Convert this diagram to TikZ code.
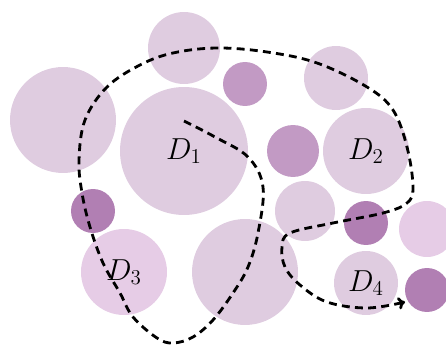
\documentclass[tikz,border=0pt]{standalone}
\usepackage{tikz}
\usetikzlibrary{arrows.meta}
\definecolor{discLight}{HTML}{DFCCE0}
\definecolor{discMid}{HTML}{C29AC4}
\definecolor{discDark}{HTML}{B17FB3}
\definecolor{discPink}{HTML}{E6CCE6}

\begin{document}
\begin{tikzpicture}[
  x=0.02cm, y=-0.02cm,
  font=\LARGE,
  disc/.style={circle, inner sep=0pt, draw=none, fill=discLight},
  discmid/.style={disc, fill=discMid},
  discdark/.style={disc, fill=discDark},
  discpink/.style={disc, fill=discPink},
  route/.style={line width=1.6pt, dash pattern=on 4.5pt off 3pt, -{To[length=4pt,width=7pt]}}
]
  \useasboundingbox (0,0) rectangle (446,347);

  % discs
  \node[disc, minimum size=2.12cm] (c1) at (63,120) {};
  \node[disc, minimum size=1.44cm] (c2) at (184,48) {};
  \node[discmid, minimum size=0.88cm] (c3) at (245,84) {};
  \node[disc, minimum size=2.56cm] (d1) at (184,151) {$D_1$};
  \node[disc, minimum size=1.28cm] (c5) at (336,78) {};
  \node[discmid, minimum size=1.04cm] (c6) at (293,151) {};
  \node[disc, minimum size=1.72cm] (d2) at (366,151) {$D_2$};
  \node[disc, minimum size=1.2cm] (c8) at (305,211) {};
  \node[discdark, minimum size=0.88cm] (c9) at (93,211) {};
  \node[discpink, minimum size=1.72cm] (d3) at (124,272) {$D_3$};
  \node[disc, minimum size=2.12cm] (c11) at (245,272) {};
  \node[discdark, minimum size=0.88cm] (c12) at (366,223) {};
  \node[discpink, minimum size=1.12cm] (c13) at (427,229) {};
  \node[disc, minimum size=1.28cm] (d4) at (366,283) {$D_4$};
  \node[discdark, minimum size=0.88cm] (c15) at (427,290) {};

  % route
  \draw[route] plot[smooth, tension=0.6] coordinates {
    (184,121) (215,137) (248,157) (263,187) (258,233) (248,267)
    (233,293) (213,320) (193,337) (173,343) (157,338) (133,317)
    (120,293) (103,263) (90,227) (82,193) (79,160) (85,120)
    (107,87) (140,65) (173,53) (217,48) (267,52) (317,63)
    (367,87) (393,110) (407,147) (413,187) (407,203) (383,213)
    (333,223) (290,233) (282,247) (285,267) (300,285) (327,302)
    (367,308) (405,302)};

\end{tikzpicture}
\end{document}
